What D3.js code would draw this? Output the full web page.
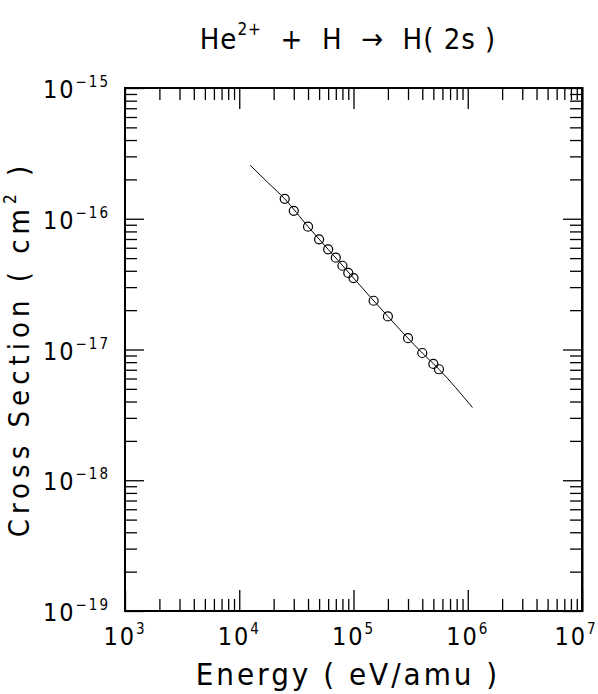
<!DOCTYPE html>
<html>
<head>
<meta charset="utf-8">
<script src="https://cdn.jsdelivr.net/npm/d3@7/dist/d3.min.js"></script>
<style>
  body { margin: 0; background: #fff; }
  text { font-family: "Liberation Sans Narrow", "DejaVu Sans Condensed", "Liberation Sans", sans-serif; fill: #000; }
</style>
</head>
<body>
<svg id="chart" width="598" height="694"></svg>
<script>
// data
var energy = [2.5e4, 3e4, 4e4, 5e4, 6e4, 7e4, 8e4, 9e4, 1e5, 1.5e5, 2e5, 3e5, 4e5, 5e5, 5.6e5]
var crossSection = [1.42e-16, 1.15e-16, 8.7e-17, 6.96e-17, 5.84e-17, 5.04e-17, 4.37e-17, 3.85e-17, 3.52e-17,
  2.36e-17, 1.79e-17, 1.22e-17, 9.4e-18, 7.75e-18, 7.06e-18]
// fitted curve
var fitEnergy = [1.25e4, 1.77e4, 2.5e4, 4e4, 6e4, 1e5, 2e5, 4e5, 5.6e5, 1.1e6]
var fitSigma = [2.56e-16, 1.9e-16, 1.42e-16, 8.7e-17, 5.84e-17, 3.52e-17, 1.79e-17, 9.4e-18, 7.06e-18, 3.6e-18]
var xDecades = [3, 4, 5, 6, 7]
var yDecades = [-15, -16, -17, -18, -19]

var margin = { top: 88, right: 16, bottom: 83, left: 125 }
var width = 598, height = 694

var svg = d3.select("#chart")

var x = d3.scaleLog().domain([1e3, 1e7]).range([margin.left, width - margin.right])
var y = d3.scaleLog().domain([1e-19, 1e-15]).range([height - margin.bottom, margin.top])

function isMajor(v) {
  var l = Math.log10(v)
  return Math.abs(l - Math.round(l)) < 1e-6
}

// axes, ticks pointing inward on all four sides
function styleAxis(g) {
  g.select(".domain").remove()
  g.selectAll(".tick line")
    .attr("stroke", "#000")
    .attr("stroke-width", 1.3)
  g.selectAll(".tick text").remove()
  return g
}

var minor = 12
svg.append("g")
  .attr("transform", "translate(0," + y.range()[0] + ")")
  .call(d3.axisBottom(x).tickSizeInner(-minor).tickSizeOuter(0).tickFormat(""))
  .call(styleAxis)
  .selectAll(".tick line").filter(isMajor).attr("y2", -21)

svg.append("g")
  .attr("transform", "translate(0," + y.range()[1] + ")")
  .call(d3.axisTop(x).tickSizeInner(-minor).tickSizeOuter(0).tickFormat(""))
  .call(styleAxis)
  .selectAll(".tick line").filter(isMajor).attr("y2", 21)

svg.append("g")
  .attr("transform", "translate(" + x.range()[0] + ",0)")
  .call(d3.axisLeft(y).tickSizeInner(-minor).tickSizeOuter(0).tickFormat(""))
  .call(styleAxis)
  .selectAll(".tick line").filter(isMajor).attr("x2", 19)

svg.append("g")
  .attr("transform", "translate(" + x.range()[1] + ",0)")
  .call(d3.axisRight(y).tickSizeInner(-minor).tickSizeOuter(0).tickFormat(""))
  .call(styleAxis)
  .selectAll(".tick line").filter(isMajor).attr("x2", -19)

// frame
var x0 = x.range()[0], x1 = x.range()[1], y0 = y.range()[1], y1 = y.range()[0]
svg.append("path")
  .attr("d", "M" + x0 + "," + y0 + "H" + x1 + "V" + y1 + "H" + x0 + "Z")
  .attr("fill", "none").attr("stroke", "#000").attr("stroke-width", 2)
svg.append("line")
  .attr("x1", x1 + 0.5).attr("x2", x1 + 0.5).attr("y1", y0 - 1).attr("y2", y1 + 1)
  .attr("stroke", "#000").attr("stroke-width", 2)

// tick labels
var xl = svg.append("g").selectAll("text").data(xDecades).join("text")
  .attr("x", d => Math.min(x(Math.pow(10, d)), 576))
  .attr("y", 645)
  .attr("text-anchor", "middle")
  .style("font-size", "25px")
  .style("letter-spacing", "2px")
xl.append("tspan").text("10")
xl.append("tspan").attr("dy", -11).style("font-size", "15px").text(d => d)

var yl = svg.append("g").selectAll("text").data(yDecades).join("text")
  .attr("x", 110)
  .attr("y", d => y(Math.pow(10, d)) + 10)
  .attr("text-anchor", "end")
  .style("font-size", "25px")
  .style("letter-spacing", "2px")
yl.append("tspan").text("10")
yl.append("tspan").attr("dy", -11).style("font-size", "15px").text(d => "\u2212" + (-d))

// fitted curve
var line = d3.line()
  .x(d => x(d[0]))
  .y(d => y(d[1]))
  .curve(d3.curveMonotoneX)

svg.append("path")
  .datum(d3.zip(fitEnergy, fitSigma))
  .attr("d", line)
  .attr("fill", "none")
  .attr("stroke", "#000")
  .attr("stroke-width", 1)

// measured points
svg.append("g").selectAll("circle").data(d3.zip(energy, crossSection)).join("circle")
  .attr("cx", d => x(d[0]))
  .attr("cy", d => y(d[1]))
  .attr("r", 4.5)
  .attr("fill", "none")
  .attr("stroke", "#000")
  .attr("stroke-width", 1.2)

// title
var title = svg.append("text")
  .attr("x", 348)
  .attr("y", 49)
  .attr("text-anchor", "middle")
  .style("font-size", "29px")
  .style("letter-spacing", "1px")
  .style("white-space", "pre")
title.append("tspan").text("He")
title.append("tspan").attr("dy", -14).style("font-size", "17px").text("2+")
title.append("tspan").attr("dy", 14).text("  +  H  \u2192  H( 2s )")

// axis labels
svg.append("text")
  .attr("x", 348)
  .attr("y", 685)
  .attr("text-anchor", "middle")
  .style("font-size", "31px")
  .style("letter-spacing", "3px")
  .style("white-space", "pre")
  .text("Energy ( eV/amu )")

var yt = svg.append("text")
  .attr("transform", "translate(29,349) rotate(-90)")
  .attr("text-anchor", "middle")
  .style("font-size", "29px")
  .style("letter-spacing", "5px")
  .style("white-space", "pre")
yt.append("tspan").text("Cross Section ( cm")
yt.append("tspan").attr("dy", -13).style("font-size", "17px").text("2")
yt.append("tspan").attr("dy", 13).text(" )")
</script>
</body>
</html>
